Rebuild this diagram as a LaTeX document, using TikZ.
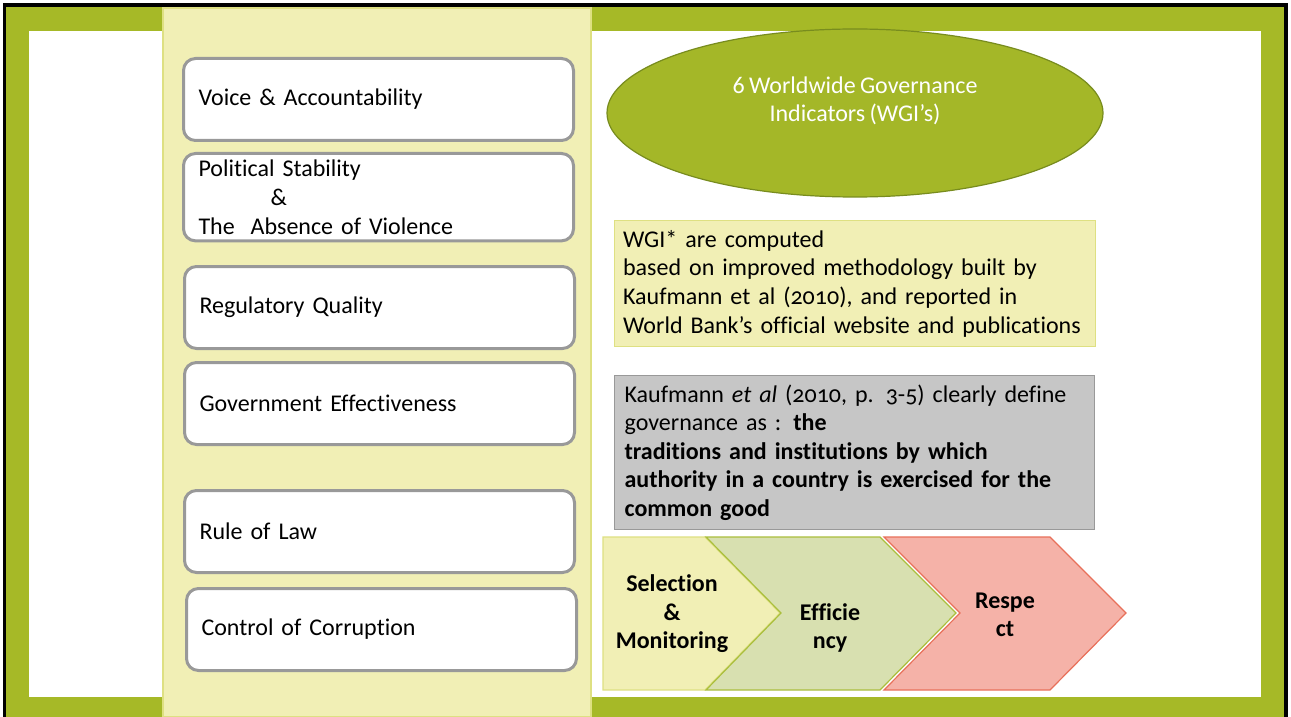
\documentclass[tikz,border=0pt]{standalone}
\usepackage{fontspec}
\setmainfont{Carlito}[WordSpace=0.8, Ligatures=NoCommon]
\usetikzlibrary{positioning,shapes.geometric}

\definecolor{frameGreen}{RGB}{166,185,39}
\definecolor{colYellow}{RGB}{241,239,181}
\definecolor{colEdge}{RGB}{222,224,130}
\definecolor{boxGray}{RGB}{153,153,153}
\definecolor{ellGreen}{RGB}{164,183,40}
\definecolor{ellEdge}{RGB}{120,140,30}
\definecolor{defGray}{RGB}{198,198,198}
\definecolor{effGreen}{RGB}{216,224,176}
\definecolor{effEdge}{RGB}{170,190,60}
\definecolor{resFill}{RGB}{245,178,168}
\definecolor{resEdge}{RGB}{232,112,90}

\begin{document}
\begin{tikzpicture}[
		x=0.5pt, y=-0.5pt,
		every node/.style={font=\fontsize{12}{14.3}\selectfont},
		indicator/.style={draw=boxGray, line width=1.5pt, rounded corners=6pt, fill=white,
			minimum width=195pt, minimum height=41pt, text width=180pt, inner xsep=7pt,
			align=left, anchor=north west},
		note/.style={line width=0.6pt, anchor=north west, align=left, inner xsep=4pt,
			font=\fontsize{12}{14.3}\selectfont\addfontfeatures{Numbers=OldStyle}},
		stagetext/.style={font=\fontsize{12}{14.3}\selectfont\bfseries, align=center}
		]
		% Рамка слайда
		\useasboundingbox (0,0) rectangle (1291,717);
		\fill[black] (3,3) rectangle (1288,717);
		\fill[frameGreen] (6,7) rectangle (1284,717);
		\fill[white] (29,31) rectangle (1261,697);
		
		% Светлая колонка слева
		\filldraw[fill=colYellow, draw=colEdge, line width=0.6pt] (163,8) rectangle (591,717);
		
		% Шесть индикаторов
		\node[indicator] (voice) at (182,57) {Voice \& Accountability};
		\node[indicator] (stab) at (182,152) {Political Stability\\\hspace*{36pt}\&\\The~~Absence of Violence};
		\node[indicator] (reg) at (183,265) {Regulatory Quality};
		\node[indicator] (gov) at (183,361) {Government Effectiveness};
		\node[indicator] (law) at (183,489) {Rule of Law};
		\node[indicator] (corr) at (185,587) {Control of Corruption};
		
		% Эллипс с заголовком
		\node[ellipse, fill=ellGreen, draw=ellEdge, line width=0.6pt,
		minimum width=248pt, minimum height=84pt, inner sep=0pt] (wgi) at (855,113) {};
		\node[text=white, align=center] (wgiText) at (855,101) {6 Worldwide Governance\\Indicators (WGI’s)};
		
		% Пояснения
		\node[note, fill=colYellow, draw=colEdge, minimum width=240.5pt, minimum height=63pt,
		text width=232pt] (computed) at (614,220)
		{WGI* are computed\\based on improved methodology built by\\Kaufmann et al (2010), and reported in\\World Bank’s official website and publications};
		\node[note, fill=defGray, draw=boxGray, minimum width=240pt, minimum height=77pt,
		text width=230pt, inner xsep=5pt] (define) at (614,375)
		{Kaufmann \textit{et al} (2010, p. 3-5) clearly define\\governance as : \textbf{the}\\\textbf{traditions and institutions by which}\\\textbf{authority in a country is exercised for the}\\\textbf{common good}};
		
		% Шевроны
		\filldraw[fill=colYellow, draw=colEdge, line width=0.6pt]
		(603,537) -- (705,537) -- (780,613) -- (705,690) -- (603,690) -- cycle;
		\filldraw[fill=effGreen, draw=effEdge, line width=0.6pt]
		(706,537) -- (880,537) -- (956,613) -- (880,690) -- (706,690) -- (781,613) -- cycle;
		\filldraw[fill=resFill, draw=resEdge, line width=0.6pt]
		(884,537) -- (1050,537) -- (1126,613) -- (1050,690) -- (884,690) -- (960,613) -- cycle;
		
		\node[stagetext] (select) at (672,614) {Selection\\\&\\Monitoring};
		\node[stagetext] (effic) at (830,628) {Efficie\\ncy};
		\node[stagetext] (resp) at (1005,615) {Respe\\ct};
	\end{tikzpicture}
\end{document}
